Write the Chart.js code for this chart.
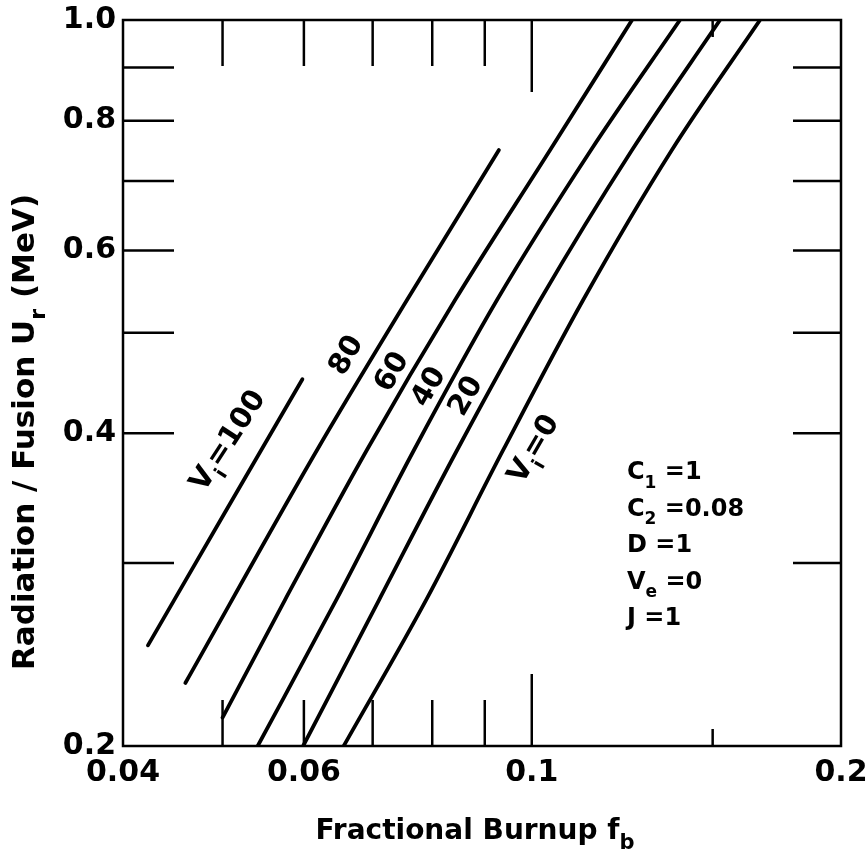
<!DOCTYPE html>
<html>
<head>
<meta charset="utf-8">
<script src="https://cdn.jsdelivr.net/npm/chart.js@4/dist/chart.umd.min.js"></script>
<style>
  html, body { margin: 0; padding: 0; background: #fff; }
  #wrap { width: 866px; height: 861px; }
</style>
</head>
<body>
<div id="wrap"><canvas id="c" width="866" height="861"></canvas></div>
<script>
// Fractional burnup f_b (x) and radiation/fusion energy U_r in MeV (y), one pair per V_i curve
const fbV100 = [0.0423, 0.0503, 0.0598];
const urV100 = [0.250, 0.336, 0.451];

const fbV80 = [0.0460, 0.0618, 0.0756, 0.0929];
const urV80 = [0.230, 0.3855, 0.5375, 0.7496];

const fbV60 = [0.0500, 0.0575, 0.0691, 0.0842, 0.1042, 0.1252];
const urV60 = [0.213, 0.2764, 0.3855, 0.5375, 0.7496, 1.0];

const fbV40 = [0.0541, 0.0645, 0.0768, 0.0925, 0.1142, 0.1394];
const urV40 = [0.200, 0.2764, 0.3855, 0.5375, 0.7496, 1.0];

const fbV20 = [0.0599, 0.0710, 0.0846, 0.1019, 0.1252, 0.1525];
const urV20 = [0.200, 0.2764, 0.3855, 0.5375, 0.7496, 1.0];

const fbV0 = [0.0656, 0.0789, 0.0938, 0.1122, 0.1369, 0.1668];
const urV0 = [0.200, 0.2764, 0.3855, 0.5375, 0.7496, 1.0];

// Axis tick labels
const xTickValues = [0.04, 0.06, 0.1, 0.2];
const xTickText = ['0.04', '0.06', '0.1', '0.2'];
const yTickValues = [0.2, 0.4, 0.6, 0.8, 1.0];
const yTickText = ['0.2', '0.4', '0.6', '0.8', '1.0'];

// Inward tick marks on all four sides
const xMarkValues = [0.05, 0.06, 0.07, 0.08, 0.09, 0.1, 0.15];
const yMarkValues = [0.3, 0.4, 0.5, 0.6, 0.7, 0.8, 0.9];

const FAMILY = '"DejaVu Sans", "Liberation Sans", sans-serif';

const curves = [
  { fb: fbV100, ur: urV100 },
  { fb: fbV80, ur: urV80 },
  { fb: fbV60, ur: urV60 },
  { fb: fbV40, ur: urV40 },
  { fb: fbV20, ur: urV20 },
  { fb: fbV0, ur: urV0 }
];

// Curve captions, anchored in data space and turned along the curves
const curveLabels = [
  { parts: [{ t: 'V' }, { t: 'i', sub: true }, { t: '=100' }], fb: 0.0507, ur: 0.393, angle: -57 },
  { parts: [{ t: '80' }], fb: 0.0661, ur: 0.475, angle: -60 },
  { parts: [{ t: '60' }], fb: 0.0732, ur: 0.458, angle: -60 },
  { parts: [{ t: '40' }], fb: 0.0795, ur: 0.443, angle: -60 },
  { parts: [{ t: '20' }], fb: 0.0864, ur: 0.434, angle: -60 },
  { parts: [{ t: 'V' }, { t: 'i', sub: true }, { t: '=0' }], fb: 0.1006, ur: 0.386, angle: -60 }
];

// Parameter list printed inside the plot
const paramLines = [
  [{ t: 'C' }, { t: '1', sub: true }, { t: ' =1' }],
  [{ t: 'C' }, { t: '2', sub: true }, { t: ' =0.08' }],
  [{ t: 'D =1' }],
  [{ t: 'V' }, { t: 'e', sub: true }, { t: ' =0' }],
  [{ t: 'J =1' }]
];

function richText(ctx, parts, cx, cy, angleDeg, size, align, subScale) {
  ctx.save();
  ctx.translate(cx, cy);
  ctx.rotate(angleDeg * Math.PI / 180);
  const base = 'bold ' + size + 'px ' + FAMILY;
  const sub = 'bold ' + Math.round(size * (subScale || 0.66)) + 'px ' + FAMILY;
  let w = 0;
  parts.forEach(p => { ctx.font = p.sub ? sub : base; w += ctx.measureText(p.t).width; });
  let x = align === 'left' ? 0 : -w / 2;
  ctx.textBaseline = 'middle';
  ctx.textAlign = 'left';
  ctx.fillStyle = '#000';
  parts.forEach(p => {
    ctx.font = p.sub ? sub : base;
    ctx.fillText(p.t, x, p.sub ? size * 0.42 : 0);
    x += ctx.measureText(p.t).width;
  });
  ctx.restore();
}

const framePlugin = {
  id: 'frame',
  beforeDraw(chart) {
    const ctx = chart.ctx;
    ctx.save();
    ctx.fillStyle = '#fff';
    ctx.fillRect(0, 0, chart.width, chart.height);
    ctx.restore();
  },
  afterDatasetsDraw(chart) {
    const { ctx, chartArea: a, scales } = chart;
    const xs = scales.x, ys = scales.y;
    ctx.save();
    ctx.strokeStyle = '#000';
    ctx.lineWidth = 2.5;
    ctx.lineCap = 'butt';
    ctx.strokeRect(a.left, a.top, a.right - a.left, a.bottom - a.top);

    const seg = (x1, y1, x2, y2) => { ctx.beginPath(); ctx.moveTo(x1, y1); ctx.lineTo(x2, y2); ctx.stroke(); };
    yMarkValues.forEach(v => {
      const py = ys.getPixelForValue(v);
      seg(a.left, py, a.left + 51, py);
      seg(a.right, py, a.right - 48, py);
    });
    xMarkValues.forEach(v => {
      const px = xs.getPixelForValue(v);
      const len = v === 0.1 ? 72 : (v === 0.15 ? 17 : 46);
      seg(px, a.top, px, a.top + len);
      seg(px, a.bottom, px, a.bottom - len);
    });
    ctx.restore();

    curveLabels.forEach(l => {
      richText(ctx, l.parts, xs.getPixelForValue(l.fb), ys.getPixelForValue(l.ur), l.angle, 29, 'center');
    });

    paramLines.forEach((parts, i) => {
      richText(ctx, parts, 627, 473 + i * 36.5, 0, 24, 'left', 0.7);
    });

    // Axis titles
    richText(ctx, [{ t: 'Fractional Burnup f' }, { t: 'b', sub: true }], 475, 832, 0, 28, 'center', 0.75);
    richText(ctx, [{ t: 'Radiation / Fusion U' }, { t: 'r', sub: true }, { t: ' (MeV)' }], 26, 432, -90, 31, 'center', 0.72);
  }
};

const tickFont = { family: FAMILY, size: 30, weight: 'bold' };

new Chart(document.getElementById('c'), {
  type: 'scatter',
  data: {
    datasets: curves.map(c => ({
      data: c.fb.map((x, i) => ({ x: x, y: c.ur[i] })),
      showLine: true,
      borderColor: '#000',
      borderWidth: 3.8,
      borderCapStyle: 'round',
      pointRadius: 0,
      pointHoverRadius: 0,
      cubicInterpolationMode: 'monotone',
      fill: false
    }))
  },
  options: {
    responsive: false,
    devicePixelRatio: 1,
    animation: false,
    layout: { padding: { left: 0, right: 25, top: 20, bottom: 0 } },
    plugins: { legend: { display: false }, tooltip: { enabled: false } },
    scales: {
      x: {
        type: 'logarithmic',
        min: 0.04,
        max: 0.2,
        grid: { display: false, drawTicks: false },
        border: { display: false },
        ticks: {
          autoSkip: false, maxRotation: 0, minRotation: 0, padding: 9,
          color: '#000', font: tickFont,
          callback: (v, i) => xTickText[i]
        },
        afterBuildTicks: s => { s.ticks = xTickValues.map(v => ({ value: v })); },
        afterFit: s => { s.height = 115; s.paddingLeft = 0; s.paddingRight = 0; }
      },
      y: {
        type: 'logarithmic',
        min: 0.2,
        max: 1.0,
        grid: { display: false, drawTicks: false },
        border: { display: false },
        ticks: {
          autoSkip: false, padding: 7,
          color: '#000', font: tickFont,
          callback: (v, i) => yTickText[i]
        },
        afterBuildTicks: s => { s.ticks = yTickValues.map(v => ({ value: v })); },
        afterFit: s => { s.width = 123; s.paddingTop = 0; s.paddingBottom = 0; }
      }
    }
  },
  plugins: [framePlugin]
});
</script>
</body>
</html>
